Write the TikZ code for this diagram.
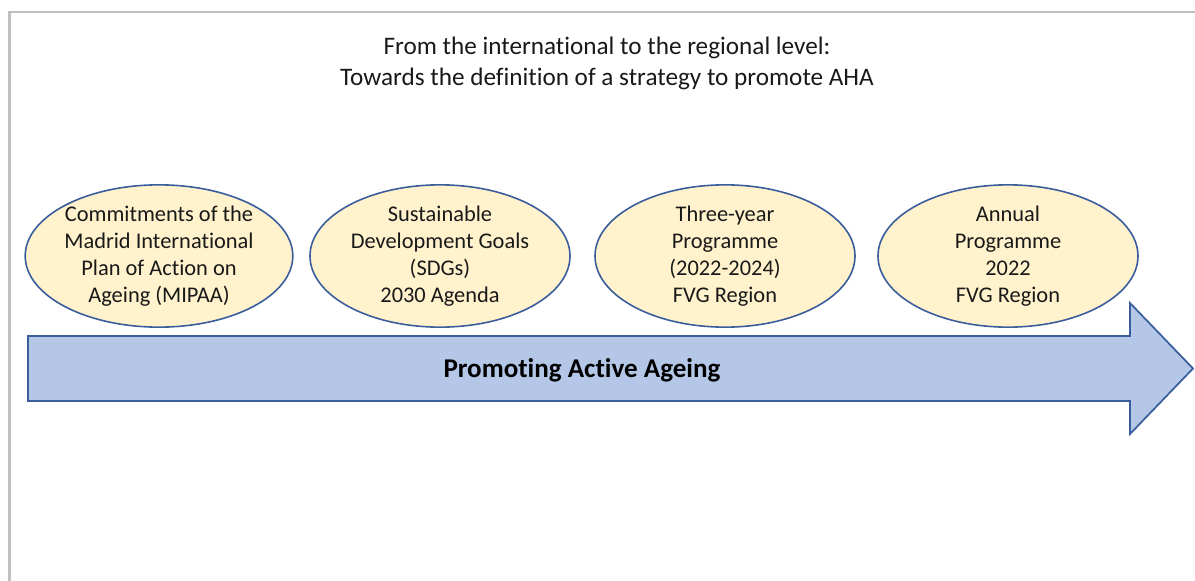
\documentclass[tikz,border=0pt]{standalone}
\usepackage{fontspec}
\setmainfont{Carlito}[Ligatures={NoCommon}]
\usetikzlibrary{shapes.geometric}
\definecolor{framegrey}{HTML}{BFBFBF}
\definecolor{stagefill}{HTML}{FFF2CC}
\definecolor{stageline}{HTML}{3A5D9C}
\definecolor{arrowfill}{HTML}{B4C7E7}
\definecolor{arrowline}{HTML}{3A5D9C}
\tikzset{
  stage/.style={ellipse, draw=stageline, line width=1.2pt, fill=stagefill,
    minimum width=195pt, minimum height=102pt, inner sep=0pt, align=center,
    font=\fontsize{16.8}{20.3}\selectfont, text=black!90},
  headline/.style={align=center, font=\fontsize{18.9}{22.8}\selectfont, text=black!90},
  banner/.style={font=\fontsize{20.3}{24}\selectfont\bfseries, text=black},
  bigarrow/.style={draw=arrowline, line width=1.3pt, fill=arrowfill, line join=miter},
  frameline/.style={draw=framegrey, line width=1.6pt}
}
\begin{document}
\begin{tikzpicture}[x=0.75pt, y=-0.75pt]
\useasboundingbox (0,0) rectangle (1195,581);
% page frame (top and left edges only)
\draw[frameline] (1195,12) -- (9.5,12) -- (9.5,581);
% title
\node[headline] (title) at (607,63.5) {From the international to the regional level:\\Towards the definition of a strategy to promote AHA};
% timeline arrow
\draw[bigarrow] (28,336) -- (1130,336) -- (1130,303) -- (1193,368.5)
  -- (1130,434) -- (1130,401) -- (28,401) -- cycle;
\node[banner] (label) at (582,370.5) {Promoting Active Ageing};
% stages along the timeline
\node[stage] (mipaa) at (159,256) {Commitments of the\\Madrid International\\Plan of Action on\\Ageing (MIPAA)};
\node[stage] (sdg) at (440,256) {Sustainable\\Development Goals\\(SDGs)\\2030 Agenda};
\node[stage] (three) at (725,256) {Three-year\\Programme\\(2022-2024)\\FVG Region};
\node[stage] (annual) at (1008,256) {Annual\\Programme\\2022\\FVG Region};
\end{tikzpicture}
\end{document}
